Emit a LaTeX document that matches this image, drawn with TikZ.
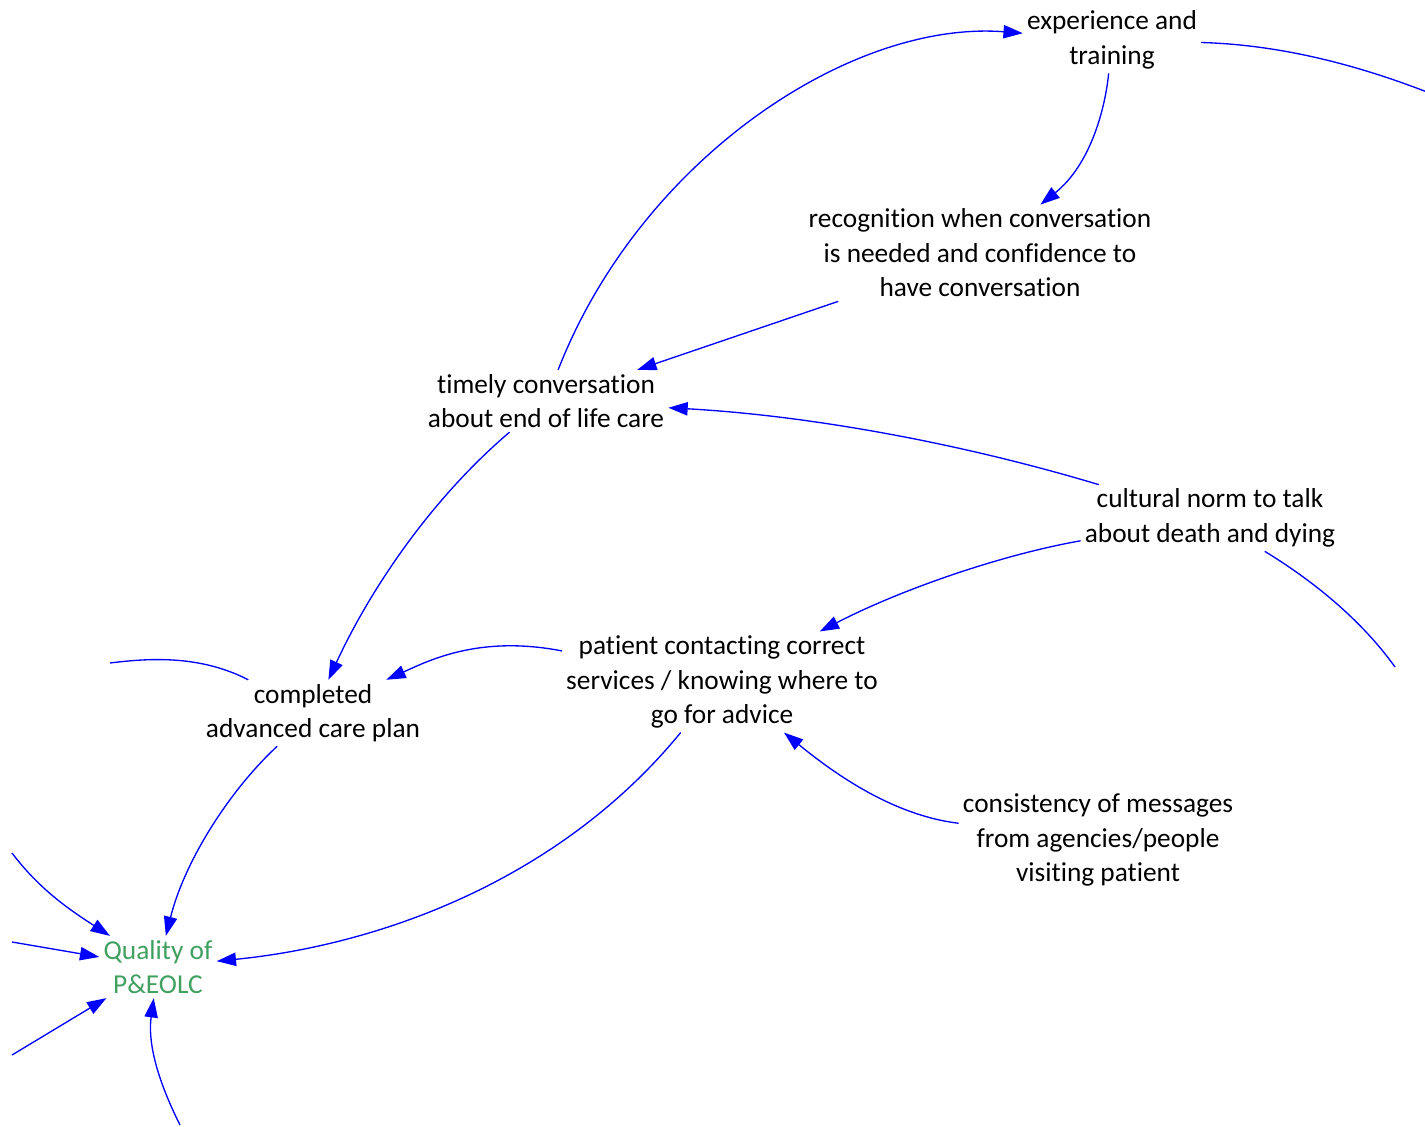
\documentclass[tikz,border=0pt]{standalone}
\usepackage{fontspec}
\setmainfont{Carlito}[Ligatures=NoCommon]
\usetikzlibrary{arrows.meta}
\definecolor{qgreen}{RGB}{64,160,96}
\definecolor{lblue}{RGB}{0,0,255}
\begin{document}
\begin{tikzpicture}[x=0.75pt,y=-0.75pt,
  lbl/.style={align=center,inner sep=3pt,font=\fontsize{20.5}{25.9}\selectfont},
  link/.style={draw=lblue,line width=1pt,-{Triangle[length=14.5pt,width=10pt]}},
  tail/.style={draw=lblue,line width=1pt}]
\useasboundingbox (0,0) rectangle (1425,1127);
\node[lbl] (exp) at (1112,40) {experience and\\training};
\node[lbl] (recog) at (980,253) {recognition when conversation\\is needed and confidence to\\have conversation};
\node[lbl] (timely) at (546,401) {timely conversation\\about end of life care};
\node[lbl] (cult) at (1210,518) {cultural norm to talk\\about death and dying};
\node[lbl] (pat) at (722,682) {patient contacting correct\\services / knowing where to\\go for advice};
\node[lbl] (comp) at (313,713) {completed\\advanced care plan};
\node[lbl] (cons) at (1098,840) {consistency of messages\\from agencies/people\\visiting patient};
\node[lbl,text=qgreen] (qual) at (158,967) {Quality of\\P\&EOLC};
\coordinate (out1) at (1427,92);
\coordinate (out2) at (1395,667);
\coordinate (out3) at (110,663);
\coordinate (in1) at (12,853);
\coordinate (in2) at (12,942);
\coordinate (in3) at (12,1055);
\coordinate (in4) at (180,1125);
\draw[link] (timely) .. controls (640,160) and (850,20) .. (exp);
\draw[link] (exp) .. controls (1105,110) and (1090,165) .. (recog);
\draw[tail] (exp) .. controls (1290,45) and (1370,70) .. (out1);
\draw[link] (recog) -- (timely);
\draw[link] (cult) .. controls (950,440) and (800,415) .. (timely);
\draw[link] (cult) .. controls (1000,555) and (900,590) .. (pat);
\draw[tail] (cult) .. controls (1320,585) and (1365,625) .. (out2);
\draw[link] (timely) .. controls (430,500) and (370,590) .. (comp);
\draw[link] (pat) .. controls (480,635) and (430,660) .. (comp);
\draw[tail] (comp) .. controls (200,655) and (150,658) .. (out3);
\draw[link] (comp) .. controls (230,790) and (185,860) .. (qual);
\draw[link] (pat) .. controls (560,880) and (380,945) .. (qual);
\draw[link] (cons) .. controls (890,815) and (830,770) .. (pat);
\draw[link] (in1) .. controls (40,890) and (70,910) .. (qual);
\draw[link] (in2) -- (qual);
\draw[link] (in3) -- (qual);
\draw[link] (in4) .. controls (155,1075) and (148,1040) .. (qual);
\end{tikzpicture}
\end{document}
